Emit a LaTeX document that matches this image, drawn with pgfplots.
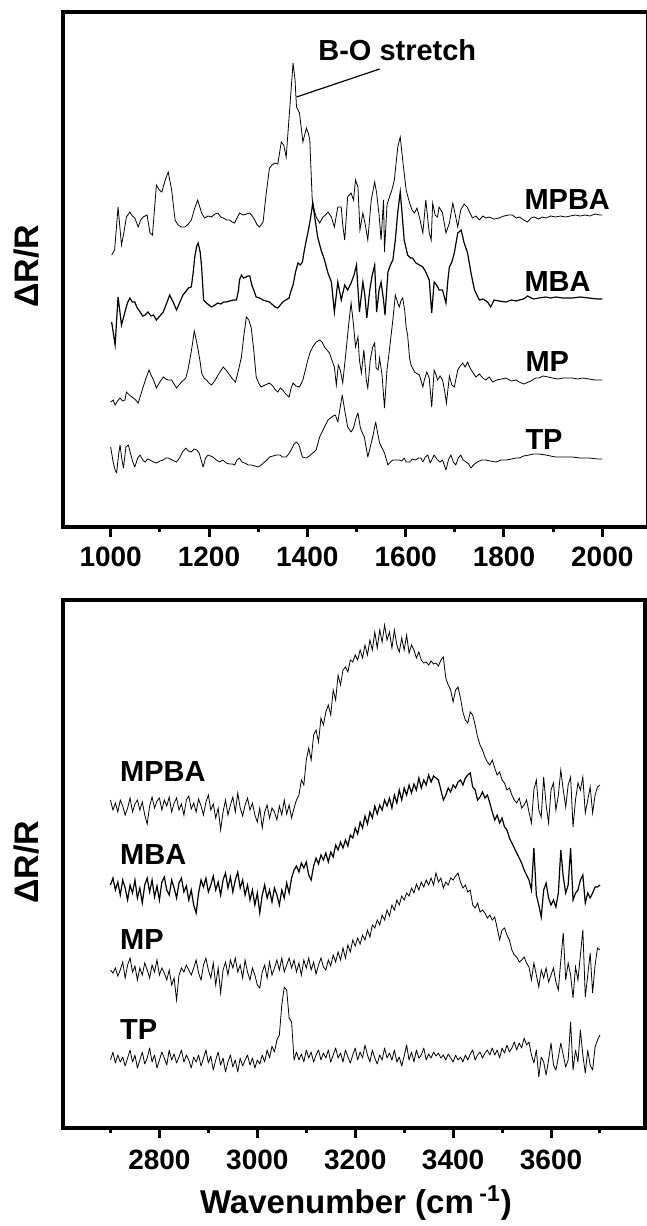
\documentclass[border=0pt]{standalone}
\usepackage{fontspec}
\setmainfont{Liberation Sans}
\usepackage{pgfplots}
\pgfplotsset{compat=1.18}
\pgfplotsset{
  spec/.style={
    scale only axis, anchor=north west,
    y dir=reverse, ytick=\empty,
    xtick pos=left, tick align=outside,
    major tick length=5pt, minor tick length=2.5pt,
    every tick/.style={black, line width=1.5pt},
    axis line style={line width=2pt},
    clip=false, xticklabels={},
    cycle list={{black, line width=0.6pt, mark=none, line join=round}},
  },
}
\tikzset{lab/.style={font=\bfseries\fontsize{14.5}{17}\selectfont, anchor=west, inner sep=0pt},
  tl/.style={font=\bfseries\fontsize{14}{16}\selectfont, anchor=north, inner sep=0pt}}
\begin{document}
\begin{tikzpicture}
\useasboundingbox (0,0) rectangle (323.5pt,-613pt);
% ---------------- top panel ----------------
\begin{axis}[spec, at={(31.5pt,-6pt)}, width=292.5pt, height=257.5pt,
  xmin=903, xmax=2093, ymin=12, ymax=527,
  xtick={1000,1200,1400,1600,1800,2000},
  minor xtick={1100,1300,1500,1700,1900}]
% MPBA
\addplot coordinates {(1002,255)(1008,250)(1015,207)(1022,245)(1027,232)(1032,217)(1039,212)(1044,216)(1049,218)(1056,227)(1061,220)(1066,217)(1074,215)(1080,233)(1085,235)(1093,185)(1099,190)(1104,192)(1111,180)(1117,172)(1124,190)(1131,220)(1137,225)(1144,227)(1151,227)(1158,224)(1164,220)(1171,208)(1177,200)(1185,213)(1191,218)(1198,216)(1205,217)(1212,214)(1218,213)(1224,217)(1229,218)(1236,220)(1242,220)(1247,222)(1252,223)(1257,218)(1262,213)(1269,215)(1276,214)(1283,213)(1288,216)(1293,220)(1298,225)(1303,227)(1310,222)(1316,195)(1323,168)(1328,165)(1334,163)(1340,164)(1347,142)(1352,145)(1357,157)(1364,110)(1371,63)(1375,80)(1378,107)(1384,113)(1391,142)(1398,128)(1402,133)(1405,140)(1410,200)(1414,210)(1418,217)(1425,223)(1432,217)(1437,215)(1442,212)(1449,217)(1455,227)(1462,207)(1469,207)(1472,225)(1476,240)(1482,197)(1489,193)(1494,200)(1498,180)(1503,187)(1507,230)(1513,213)(1518,225)(1523,240)(1530,200)(1537,182)(1541,193)(1546,215)(1550,240)(1555,200)(1557,252)(1562,205)(1567,197)(1572,190)(1577,180)(1584,147)(1589,137)(1594,160)(1601,190)(1608,203)(1613,210)(1618,213)(1623,208)(1628,217)(1635,233)(1641,200)(1648,233)(1652,240)(1655,203)(1660,215)(1665,217)(1668,207)(1675,213)(1682,233)(1689,223)(1696,203)(1701,215)(1706,227)(1712,210)(1719,204)(1725,207)(1730,212)(1736,218)(1743,216)(1750,220)(1757,216)(1763,218)(1770,217)(1780,219)(1790,218)(1800,216)(1810,215)(1817,215)(1825,218)(1832,217)(1840,220)(1848,222)(1855,218)(1862,217)(1870,219)(1878,217)(1885,218)(1895,216)(1905,217)(1915,216)(1925,217)(1935,216)(1945,215)(1955,216)(1965,215)(1975,216)(1985,214)(1995,215)(2000,215)};
% MBA
\addplot coordinates {(1002,322)(1009,345)(1015,297)(1022,325)(1029,312)(1034,303)(1039,298)(1044,302)(1049,302)(1054,308)(1060,312)(1065,316)(1070,315)(1076,312)(1082,316)(1087,315)(1093,320)(1100,316)(1107,312)(1114,303)(1120,295)(1127,302)(1134,310)(1140,303)(1147,295)(1152,292)(1158,288)(1164,287)(1168,272)(1171,257)(1175,246)(1178,243)(1182,252)(1185,267)(1189,300)(1195,303)(1200,305)(1205,307)(1212,305)(1218,303)(1224,304)(1230,302)(1235,302)(1242,301)(1250,300)(1256,300)(1260,290)(1262,280)(1266,275)(1270,278)(1275,277)(1280,276)(1283,276)(1287,285)(1291,290)(1296,297)(1303,298)(1310,300)(1316,301)(1323,302)(1330,305)(1335,307)(1340,308)(1345,305)(1350,302)(1356,300)(1363,298)(1366,292)(1371,285)(1376,272)(1381,263)(1386,265)(1390,262)(1394,250)(1398,240)(1401,233)(1406,220)(1411,203)(1416,220)(1421,237)(1428,250)(1435,260)(1442,273)(1449,282)(1455,312)(1462,282)(1469,300)(1476,285)(1482,290)(1489,283)(1495,275)(1500,265)(1506,312)(1513,282)(1517,295)(1521,318)(1527,290)(1532,275)(1537,265)(1541,312)(1546,290)(1550,282)(1555,300)(1558,315)(1564,272)(1569,265)(1574,260)(1579,240)(1584,212)(1589,192)(1593,215)(1597,240)(1604,255)(1610,258)(1614,258)(1621,263)(1628,265)(1635,267)(1641,272)(1648,280)(1653,313)(1658,282)(1663,285)(1668,290)(1675,290)(1682,303)(1686,280)(1689,267)(1694,262)(1699,253)(1706,233)(1713,230)(1719,243)(1726,253)(1733,273)(1740,290)(1745,295)(1750,300)(1757,299)(1764,301)(1768,303)(1773,307)(1780,300)(1790,301)(1804,302)(1815,300)(1825,301)(1831,300)(1840,299)(1848,296)(1860,299)(1871,298)(1885,297)(1895,298)(1905,297)(1920,298)(1939,298)(1955,297)(1973,298)(1990,299)(2000,299)};
% MP
\addplot coordinates {(1000,402)(1005,400)(1009,405)(1014,401)(1019,398)(1024,401)(1029,400)(1032,392)(1038,395)(1043,397)(1049,399)(1056,403)(1061,395)(1066,387)(1072,378)(1078,370)(1083,376)(1087,380)(1093,388)(1100,382)(1107,377)(1112,379)(1117,380)(1124,380)(1129,384)(1134,388)(1139,385)(1144,382)(1153,378)(1157,370)(1161,360)(1166,345)(1170,331)(1174,340)(1178,350)(1182,362)(1185,373)(1190,378)(1195,380)(1200,383)(1205,385)(1210,382)(1215,378)(1222,372)(1229,367)(1236,371)(1242,375)(1248,379)(1254,382)(1260,370)(1266,357)(1271,335)(1276,317)(1281,320)(1286,328)(1291,350)(1296,377)(1301,383)(1306,387)(1314,385)(1323,383)(1330,386)(1335,390)(1340,392)(1345,388)(1350,390)(1356,394)(1363,397)(1367,388)(1371,383)(1377,386)(1384,387)(1391,380)(1396,370)(1401,360)(1406,352)(1411,347)(1418,342)(1425,340)(1430,342)(1435,347)(1440,350)(1445,353)(1450,360)(1455,367)(1459,385)(1463,365)(1467,370)(1472,383)(1479,350)(1484,325)(1489,303)(1494,325)(1498,347)(1503,337)(1506,360)(1510,373)(1515,350)(1520,380)(1523,388)(1528,360)(1533,347)(1537,343)(1540,368)(1544,370)(1547,358)(1552,375)(1557,408)(1562,370)(1567,350)(1570,337)(1574,320)(1579,295)(1584,303)(1587,307)(1591,300)(1594,298)(1598,310)(1601,327)(1604,335)(1608,358)(1611,365)(1618,372)(1628,375)(1635,387)(1638,380)(1643,372)(1648,378)(1653,407)(1658,370)(1662,375)(1665,380)(1670,376)(1675,380)(1679,390)(1683,403)(1689,376)(1694,385)(1699,387)(1706,370)(1711,366)(1716,363)(1721,367)(1726,362)(1731,368)(1736,372)(1743,377)(1750,374)(1757,378)(1763,380)(1770,377)(1777,382)(1785,380)(1795,379)(1804,378)(1815,381)(1825,380)(1831,382)(1840,384)(1845,383)(1855,381)(1864,378)(1871,378)(1880,376)(1890,377)(1899,378)(1910,379)(1920,378)(1930,378)(1939,378)(1950,379)(1960,378)(1973,379)(1985,380)(2000,380)};
% TP
\addplot coordinates {(1000,447)(1005,462)(1009,470)(1012,473)(1016,455)(1019,445)(1023,460)(1026,468)(1031,447)(1036,445)(1040,453)(1045,462)(1049,467)(1055,458)(1060,455)(1065,460)(1070,462)(1075,459)(1080,460)(1087,462)(1093,463)(1100,461)(1107,460)(1112,458)(1117,458)(1125,460)(1134,462)(1140,458)(1146,452)(1153,448)(1158,451)(1164,452)(1170,449)(1175,450)(1180,453)(1184,460)(1188,467)(1193,458)(1198,455)(1203,456)(1208,457)(1215,460)(1222,462)(1228,460)(1235,463)(1242,464)(1248,464)(1252,465)(1257,460)(1262,458)(1267,462)(1273,463)(1280,465)(1287,465)(1293,466)(1300,467)(1306,465)(1313,462)(1318,460)(1323,457)(1330,456)(1337,455)(1344,455)(1350,457)(1357,457)(1362,454)(1367,450)(1373,444)(1378,442)(1383,445)(1387,452)(1390,457)(1398,458)(1404,456)(1411,453)(1418,450)(1425,437)(1430,432)(1435,427)(1442,420)(1447,418)(1452,416)(1457,415)(1462,422)(1466,410)(1471,395)(1476,410)(1482,427)(1489,432)(1494,428)(1499,418)(1503,413)(1508,428)(1513,434)(1516,437)(1523,457)(1528,447)(1533,437)(1539,422)(1543,433)(1547,443)(1552,448)(1557,453)(1564,465)(1569,462)(1574,460)(1581,460)(1587,460)(1592,461)(1597,458)(1601,462)(1608,462)(1614,459)(1620,460)(1626,458)(1631,458)(1635,462)(1640,457)(1645,455)(1650,463)(1655,458)(1658,455)(1665,460)(1670,462)(1675,460)(1682,470)(1687,460)(1692,455)(1697,462)(1702,465)(1707,458)(1712,455)(1717,460)(1723,462)(1728,464)(1733,468)(1740,464)(1746,462)(1755,460)(1763,460)(1772,461)(1784,462)(1794,460)(1804,460)(1815,459)(1824,458)(1831,458)(1840,456)(1851,455)(1860,454)(1871,454)(1885,455)(1895,456)(1905,457)(1920,457)(1939,457)(1955,458)(1973,458)(1990,459)(2000,459)};
\draw[line width=0.6pt] (axis cs:1378,97) -- (axis cs:1547,69);
\node[font=\bfseries\fontsize{14.5}{17}\selectfont, inner sep=0pt] at (axis cs:1583,50) {B-O stretch};
\node[lab] at (axis cs:1841,200) {MPBA};
\node[lab] at (axis cs:1841,282) {MBA};
\node[lab] at (axis cs:1843,362) {MP};
\node[lab] at (axis cs:1843,440) {TP};
\node[tl, yshift=-10pt] at (axis cs:1000,527) {1000};
\node[tl, yshift=-10pt] at (axis cs:1200,527) {1200};
\node[tl, yshift=-10pt] at (axis cs:1400,527) {1400};
\node[tl, yshift=-10pt] at (axis cs:1600,527) {1600};
\node[tl, yshift=-10pt] at (axis cs:1800,527) {1800};
\node[tl, yshift=-10pt] at (axis cs:2000,527) {2000};
\end{axis}
% ---------------- bottom panel ----------------
\begin{axis}[spec, at={(31.5pt,-300pt)}, width=291pt, height=264pt,
  xmin=2603, xmax=3792, ymin=600, ymax=1128,
  xtick={2800,3000,3200,3400,3600},
  minor xtick={2700,2900,3100,3300,3500,3700}]
% MPBA
\addplot coordinates {(2700,800)(2705,810)(2710,803)(2715,812)(2720,800)(2725,806)(2730,815)(2735,808)(2740,798)(2745,812)(2750,804)(2755,800)(2760,810)(2765,802)(2770,815)(2775,824)(2780,806)(2785,797)(2790,808)(2795,801)(2800,798)(2805,810)(2810,800)(2815,806)(2820,797)(2825,812)(2830,803)(2835,798)(2840,810)(2845,804)(2850,815)(2855,800)(2860,796)(2865,809)(2870,803)(2875,812)(2880,799)(2885,806)(2890,815)(2895,802)(2900,795)(2905,810)(2910,804)(2915,818)(2920,808)(2925,830)(2930,812)(2935,800)(2940,815)(2945,805)(2950,797)(2955,812)(2960,793)(2965,808)(2970,816)(2975,805)(2980,798)(2985,810)(2990,803)(2995,815)(3000,822)(3005,808)(3010,828)(3015,812)(3020,805)(3025,818)(3030,808)(3035,812)(3040,820)(3045,806)(3050,815)(3055,800)(3060,814)(3065,805)(3070,818)(3075,808)(3080,800)(3085,795)(3090,780)(3095,785)(3100,760)(3105,748)(3110,760)(3115,735)(3120,730)(3125,742)(3130,718)(3135,725)(3140,712)(3145,705)(3150,715)(3155,690)(3160,700)(3165,675)(3170,685)(3175,670)(3180,667)(3185,672)(3190,660)(3195,662)(3200,655)(3205,660)(3210,650)(3215,658)(3220,645)(3225,655)(3230,640)(3235,650)(3240,632)(3245,648)(3250,630)(3255,642)(3260,625)(3265,640)(3270,632)(3275,648)(3280,630)(3285,645)(3290,652)(3295,638)(3300,650)(3305,635)(3310,653)(3315,645)(3320,650)(3325,658)(3330,652)(3335,660)(3340,663)(3345,662)(3350,665)(3355,661)(3360,664)(3365,663)(3370,666)(3375,660)(3380,657)(3385,678)(3390,685)(3395,690)(3400,702)(3405,690)(3410,687)(3415,698)(3420,712)(3425,720)(3430,723)(3435,712)(3440,715)(3445,725)(3450,737)(3455,745)(3460,750)(3465,757)(3470,762)(3475,765)(3480,760)(3485,768)(3490,775)(3495,772)(3500,780)(3505,783)(3510,790)(3515,788)(3520,795)(3525,800)(3530,803)(3535,798)(3540,808)(3545,805)(3550,800)(3555,812)(3560,823)(3565,790)(3570,780)(3575,810)(3580,817)(3585,777)(3590,805)(3595,823)(3600,790)(3605,783)(3610,810)(3615,795)(3620,770)(3625,790)(3630,807)(3635,785)(3640,777)(3645,827)(3650,800)(3655,783)(3660,790)(3665,777)(3670,813)(3675,800)(3680,787)(3685,813)(3690,795)(3695,787)(3700,785)};
% MBA
\addplot coordinates {(2700,885)(2705,878)(2710,890)(2715,882)(2720,895)(2725,880)(2730,888)(2735,900)(2740,885)(2745,893)(2750,880)(2755,898)(2760,888)(2765,903)(2770,885)(2775,878)(2780,892)(2785,880)(2790,897)(2795,886)(2800,900)(2805,882)(2810,877)(2815,890)(2820,895)(2825,880)(2830,888)(2835,898)(2840,883)(2845,878)(2850,892)(2855,886)(2860,900)(2865,890)(2870,905)(2875,913)(2880,893)(2885,880)(2890,887)(2895,878)(2900,892)(2905,885)(2910,876)(2915,890)(2920,882)(2925,895)(2930,880)(2935,873)(2940,888)(2945,877)(2950,892)(2955,880)(2960,872)(2965,888)(2970,880)(2975,895)(2980,885)(2985,900)(2990,890)(2995,905)(3000,893)(3005,913)(3010,895)(3015,885)(3020,898)(3025,890)(3030,902)(3035,888)(3040,895)(3045,905)(3050,890)(3055,898)(3060,883)(3065,893)(3070,878)(3075,870)(3080,866)(3085,872)(3090,863)(3095,868)(3100,862)(3105,875)(3110,880)(3115,866)(3120,858)(3125,864)(3130,855)(3135,860)(3140,853)(3145,862)(3150,852)(3155,857)(3160,845)(3165,850)(3170,842)(3175,848)(3180,840)(3185,846)(3190,835)(3195,838)(3200,828)(3205,834)(3210,822)(3215,828)(3220,816)(3225,824)(3230,812)(3235,818)(3240,806)(3245,814)(3250,805)(3255,810)(3260,800)(3265,806)(3270,798)(3275,808)(3280,795)(3285,803)(3290,790)(3295,800)(3300,788)(3305,795)(3310,785)(3315,793)(3320,784)(3325,790)(3330,778)(3335,788)(3340,780)(3345,785)(3350,775)(3355,782)(3360,776)(3365,778)(3370,780)(3375,790)(3380,800)(3385,795)(3390,788)(3395,792)(3400,785)(3405,788)(3410,782)(3415,780)(3420,785)(3425,778)(3430,775)(3435,773)(3440,787)(3445,790)(3450,800)(3455,797)(3460,792)(3465,798)(3470,795)(3475,803)(3480,812)(3485,820)(3490,815)(3495,823)(3500,818)(3505,827)(3510,830)(3515,838)(3520,843)(3525,848)(3530,853)(3535,858)(3540,863)(3545,870)(3550,875)(3555,880)(3560,890)(3565,848)(3570,895)(3575,905)(3580,917)(3585,890)(3590,883)(3595,898)(3600,905)(3605,900)(3610,907)(3615,893)(3620,850)(3625,877)(3630,893)(3635,885)(3640,848)(3645,900)(3650,893)(3655,890)(3660,880)(3665,875)(3670,903)(3675,893)(3680,898)(3685,893)(3690,887)(3695,887)(3700,885)};
% MP
\addplot coordinates {(2700,970)(2705,973)(2710,968)(2715,976)(2720,970)(2725,962)(2730,978)(2735,965)(2740,958)(2745,972)(2750,966)(2755,980)(2760,968)(2765,975)(2770,963)(2775,970)(2780,978)(2785,965)(2790,972)(2795,960)(2800,975)(2805,968)(2810,973)(2815,980)(2820,970)(2825,985)(2830,978)(2835,1000)(2840,975)(2845,968)(2850,972)(2855,965)(2860,970)(2865,975)(2870,968)(2875,960)(2880,973)(2885,980)(2890,965)(2895,958)(2900,970)(2905,978)(2910,963)(2915,985)(2920,968)(2925,993)(2930,970)(2935,962)(2940,975)(2945,960)(2950,968)(2955,958)(2960,972)(2965,965)(2970,978)(2975,960)(2980,972)(2985,980)(2990,968)(2995,975)(3000,985)(3005,988)(3010,972)(3015,965)(3020,978)(3025,962)(3030,975)(3035,968)(3040,960)(3045,970)(3050,958)(3055,972)(3060,965)(3065,958)(3070,968)(3075,960)(3080,972)(3085,963)(3090,975)(3095,960)(3100,968)(3105,958)(3110,970)(3115,962)(3120,974)(3125,965)(3130,958)(3135,967)(3140,970)(3145,960)(3150,966)(3155,955)(3160,962)(3165,952)(3170,960)(3175,948)(3180,958)(3185,945)(3190,952)(3195,940)(3200,946)(3205,938)(3210,944)(3215,935)(3220,940)(3225,930)(3230,937)(3235,925)(3240,928)(3245,920)(3250,925)(3255,915)(3260,920)(3265,910)(3270,916)(3275,905)(3280,910)(3285,900)(3290,905)(3295,896)(3300,900)(3305,893)(3310,896)(3315,888)(3320,893)(3325,884)(3330,890)(3335,882)(3340,887)(3345,880)(3350,885)(3355,878)(3360,885)(3365,873)(3370,882)(3375,878)(3380,888)(3385,882)(3390,885)(3395,878)(3400,880)(3405,876)(3410,873)(3415,882)(3420,888)(3425,885)(3430,892)(3435,890)(3440,905)(3445,908)(3450,903)(3455,912)(3460,910)(3465,913)(3470,918)(3475,915)(3480,920)(3485,917)(3490,928)(3495,940)(3500,930)(3505,928)(3510,935)(3515,940)(3520,950)(3525,955)(3530,957)(3535,962)(3540,960)(3545,957)(3550,963)(3555,967)(3560,980)(3565,963)(3570,975)(3575,987)(3580,970)(3585,978)(3590,968)(3595,982)(3600,975)(3605,968)(3610,982)(3615,990)(3620,960)(3625,933)(3630,980)(3635,963)(3640,975)(3645,998)(3650,967)(3655,980)(3660,955)(3665,930)(3670,997)(3675,975)(3680,953)(3685,993)(3690,965)(3695,948)(3700,950)};
% TP
\addplot coordinates {(2700,1060)(2705,1052)(2710,1063)(2715,1055)(2720,1062)(2725,1057)(2730,1066)(2735,1058)(2740,1050)(2745,1062)(2750,1055)(2755,1068)(2760,1060)(2765,1052)(2770,1064)(2775,1058)(2780,1048)(2785,1062)(2790,1055)(2795,1068)(2800,1060)(2805,1052)(2810,1058)(2815,1065)(2820,1050)(2825,1060)(2830,1054)(2835,1063)(2840,1057)(2845,1050)(2850,1062)(2855,1055)(2860,1060)(2865,1068)(2870,1057)(2875,1062)(2880,1055)(2885,1066)(2890,1058)(2895,1050)(2900,1063)(2905,1056)(2910,1070)(2915,1060)(2920,1052)(2925,1065)(2930,1058)(2935,1072)(2940,1062)(2945,1055)(2950,1067)(2955,1060)(2960,1072)(2965,1058)(2970,1066)(2975,1060)(2980,1055)(2985,1065)(2990,1058)(2995,1068)(3000,1060)(3005,1064)(3010,1055)(3015,1062)(3020,1050)(3025,1058)(3030,1046)(3035,1052)(3040,1040)(3045,1035)(3050,1005)(3055,987)(3060,990)(3065,1018)(3070,1022)(3075,1060)(3080,1052)(3085,1060)(3090,1054)(3095,1062)(3100,1050)(3105,1058)(3110,1052)(3115,1062)(3120,1055)(3125,1050)(3130,1060)(3135,1053)(3140,1058)(3145,1050)(3150,1062)(3155,1055)(3160,1048)(3165,1058)(3170,1053)(3175,1062)(3180,1050)(3185,1057)(3190,1063)(3195,1055)(3200,1048)(3205,1060)(3210,1052)(3215,1058)(3220,1045)(3225,1055)(3230,1062)(3235,1050)(3240,1058)(3245,1064)(3250,1055)(3255,1060)(3260,1048)(3265,1058)(3270,1053)(3275,1060)(3280,1050)(3285,1062)(3290,1057)(3295,1066)(3300,1056)(3305,1045)(3310,1060)(3315,1052)(3320,1062)(3325,1050)(3330,1058)(3335,1055)(3340,1048)(3345,1060)(3350,1054)(3355,1058)(3360,1052)(3365,1056)(3370,1053)(3375,1058)(3380,1055)(3385,1060)(3390,1054)(3395,1058)(3400,1062)(3405,1055)(3410,1060)(3415,1057)(3420,1062)(3425,1055)(3430,1060)(3435,1054)(3440,1050)(3445,1060)(3450,1055)(3455,1052)(3460,1058)(3465,1053)(3470,1050)(3475,1055)(3480,1048)(3485,1055)(3490,1050)(3495,1058)(3500,1048)(3505,1053)(3510,1045)(3515,1052)(3520,1048)(3525,1042)(3530,1050)(3535,1043)(3540,1048)(3545,1038)(3550,1045)(3555,1042)(3560,1055)(3565,1063)(3570,1050)(3575,1077)(3580,1057)(3585,1062)(3590,1075)(3595,1060)(3600,1043)(3605,1065)(3610,1070)(3615,1057)(3620,1043)(3625,1055)(3630,1067)(3635,1060)(3640,1022)(3645,1070)(3650,1050)(3655,1062)(3660,1030)(3665,1055)(3670,1073)(3675,1050)(3680,1065)(3685,1070)(3690,1047)(3695,1040)(3700,1035)};
\node[lab] at (axis cs:2719,772) {MPBA};
\node[lab] at (axis cs:2719,855) {MBA};
\node[lab] at (axis cs:2719,940) {MP};
\node[lab] at (axis cs:2719,1030) {TP};
\node[tl, yshift=-11pt] at (axis cs:2800,1128) {2800};
\node[tl, yshift=-11pt] at (axis cs:3000,1128) {3000};
\node[tl, yshift=-11pt] at (axis cs:3200,1128) {3200};
\node[tl, yshift=-11pt] at (axis cs:3400,1128) {3400};
\node[tl, yshift=-11pt] at (axis cs:3600,1128) {3600};
\end{axis}
% axis titles
\node[rotate=90, font=\bfseries\fontsize{17}{20}\selectfont, inner sep=0pt] at (13.5pt,-133pt) {ΔR/R};
\node[rotate=90, font=\bfseries\fontsize{17}{20}\selectfont, inner sep=0pt] at (13.5pt,-431pt) {ΔR/R};
\node[font=\bfseries\fontsize{16.5}{19}\selectfont, inner sep=0pt] at (178pt,-601.5pt) {Wavenumber (cm\,\textsuperscript{-1})};
\end{tikzpicture}
\end{document}
